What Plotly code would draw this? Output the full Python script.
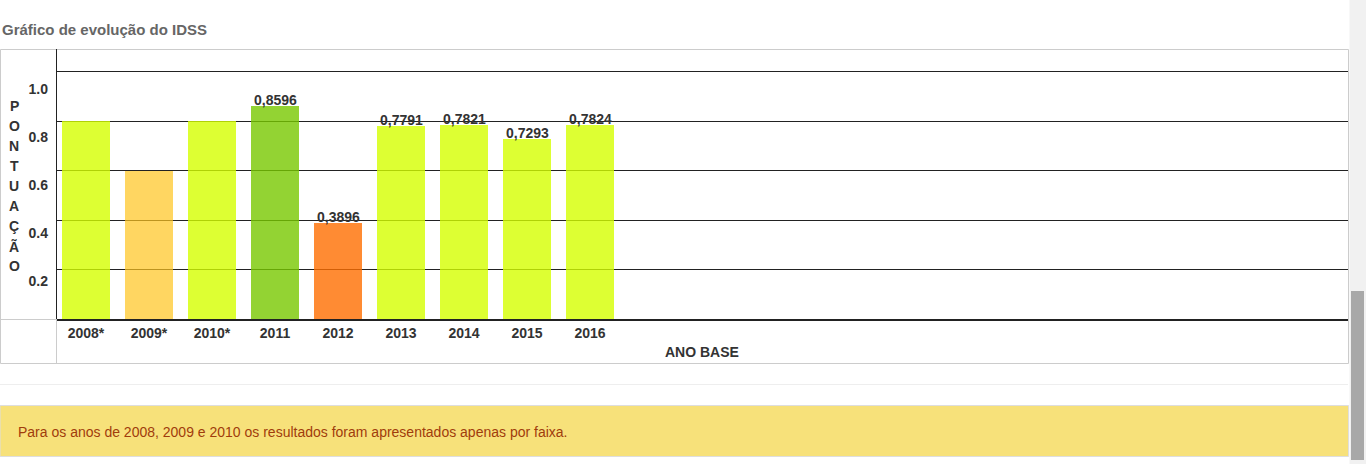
import plotly.graph_objects as go

# ---- data ----
years = ["2008*", "2009*", "2010*", "2011", "2012", "2013", "2014", "2015", "2016"]
scores = [0.8, 0.6, 0.8, 0.8596, 0.3896, 0.7791, 0.7821, 0.7293, 0.7824]
value_labels = ["", "", "", "0,8596", "0,3896", "0,7791", "0,7821", "0,7293", "0,7824"]
bar_colors = ["rgba(212,255,0,0.80)", "rgba(255,196,30,0.70)", "rgba(212,255,0,0.80)",
              "rgba(120,200,0,0.80)", "rgba(255,110,0,0.80)", "rgba(212,255,0,0.80)",
              "rgba(212,255,0,0.80)", "rgba(212,255,0,0.80)", "rgba(212,255,0,0.80)"]
y_ticks = [0.2, 0.4, 0.6, 0.8, 1.0]
y_tick_text = ["0.2", "0.4", "0.6", "0.8", "1.0"]
y_title_letters = list("PONTUAÇÃO")

FONT = "Liberation Sans, Arial, sans-serif"
W, H = 1366, 464
L, R, T, B = 57, 1348, 49, 319


def px_x(p):
    return (p - L) / (R - L)


def px_y(p):
    return (B - p) / (B - T)


positions = list(range(len(years)))

fig = go.Figure()
fig.add_trace(go.Bar(
    x=positions, y=scores, width=0.762,
    marker=dict(color=bar_colors, line=dict(width=0)),
    hoverinfo="skip", showlegend=False,
))
# carrier trace for the label axis (invisible)
fig.add_trace(go.Scatter(
    x=positions, y=scores, yaxis="y2", mode="markers",
    marker=dict(opacity=0), hoverinfo="skip", showlegend=False,
))

shapes = []
gray = "#cccccc"
shapes.append(dict(type="rect", xref="paper", yref="paper",
                   x0=px_x(0.5), x1=px_x(1348.5), y0=px_y(363.5), y1=px_y(49.5),
                   line=dict(color=gray, width=1), fillcolor="rgba(0,0,0,0)", layer="below"))
shapes.append(dict(type="line", xref="paper", yref="paper",
                   x0=px_x(56.5), x1=px_x(56.5), y0=px_y(319), y1=px_y(363),
                   line=dict(color=gray, width=1)))
shapes.append(dict(type="line", xref="paper", yref="paper",
                   x0=px_x(0), x1=px_x(56.5), y0=px_y(319.5), y1=px_y(319.5),
                   line=dict(color=gray, width=1)))
shapes.append(dict(type="line", xref="paper", yref="paper",
                   x0=px_x(0), x1=px_x(1348), y0=px_y(384.5), y1=px_y(384.5),
                   line=dict(color="#eeeeee", width=1)))
shapes.append(dict(type="rect", xref="paper", yref="paper",
                   x0=px_x(0), x1=px_x(1348.5), y0=px_y(456.5), y1=px_y(405.5),
                   line=dict(color="#dedede", width=1), fillcolor="#f7e17a", layer="below"))
shapes.append(dict(type="rect", xref="paper", yref="paper",
                   x0=px_x(1349.5), x1=px_x(1366), y0=px_y(464), y1=px_y(0),
                   line=dict(width=0), fillcolor="#f1f1f1", layer="below"))
shapes.append(dict(type="rect", xref="paper", yref="paper",
                   x0=px_x(1351), x1=px_x(1364), y0=px_y(460), y1=px_y(291),
                   line=dict(width=0), fillcolor="#a8a8a8", layer="below"))

annotations = []
# value labels on top of bars
for xp, yv, lab in zip(positions, scores, value_labels):
    if lab:
        annotations.append(dict(text="<b>%s</b>" % lab, x=xp, y=yv, xref="x", yref="y",
                                xanchor="center", yanchor="bottom", yshift=-4, showarrow=False,
                                font=dict(family=FONT, size=14, color="#333333")))
annotations.append(dict(text="<b>Gráfico de evolução do IDSS</b>", xref="paper", yref="paper",
                        x=px_x(0), y=px_y(30), xanchor="left", yanchor="middle", showarrow=False,
                        font=dict(family=FONT, size=15, color="#666666")))
for i, ch in enumerate(y_title_letters):
    annotations.append(dict(text="<b>%s</b>" % ch, xref="paper", yref="paper",
                            x=px_x(14), y=px_y(106 + i * 20), xanchor="center", yanchor="middle",
                            showarrow=False, font=dict(family=FONT, size=14, color="#333333")))
annotations.append(dict(text="<b>ANO BASE</b>", xref="paper", yref="paper",
                        x=px_x(702), y=px_y(352), xanchor="center", yanchor="middle",
                        showarrow=False, font=dict(family=FONT, size=14, color="#333333")))
annotations.append(dict(text="Para os anos de 2008, 2009 e 2010 os resultados foram apresentados apenas por faixa.",
                        xref="paper", yref="paper", x=px_x(16), y=px_y(432),
                        xanchor="left", yanchor="middle", showarrow=False,
                        font=dict(family=FONT, size=14, color="#a03c0c")))

fig.update_layout(
    width=W, height=H, autosize=False,
    margin=dict(l=L, r=W - R, t=T, b=H - B, pad=0),
    paper_bgcolor="white", plot_bgcolor="white",
    bargap=0,
    xaxis=dict(range=[-0.46, 20.03], tickvals=positions, ticktext=years,
               showgrid=False, zeroline=False, showline=True, linecolor="#222", linewidth=1.5,
               ticks="", tickfont=dict(family=FONT, size=14, color="#333", weight="bold"),
               fixedrange=True),
    yaxis=dict(range=[0, 1.091], tickvals=y_ticks, showticklabels=False,
               showgrid=True, gridcolor="#222", gridwidth=1.2, zeroline=False,
               showline=True, linecolor="#222", linewidth=1.2, ticks="", fixedrange=True),
    yaxis2=dict(overlaying="y", side="left", anchor="x",
                range=[(329 - 319) / 240, (329 - 49) / 240],
                tickvals=y_ticks, ticktext=y_tick_text,
                showgrid=False, zeroline=False, showline=False, ticks="",
                ticklabelstandoff=8,
                tickfont=dict(family=FONT, size=14, color="#333", weight="bold"),
                fixedrange=True),
    shapes=shapes, annotations=annotations,
    showlegend=False,
)

fig.write_html("out.html", config={"displayModeBar": False},
               post_script="document.body.style.margin='0';document.body.style.overflow='hidden';")
